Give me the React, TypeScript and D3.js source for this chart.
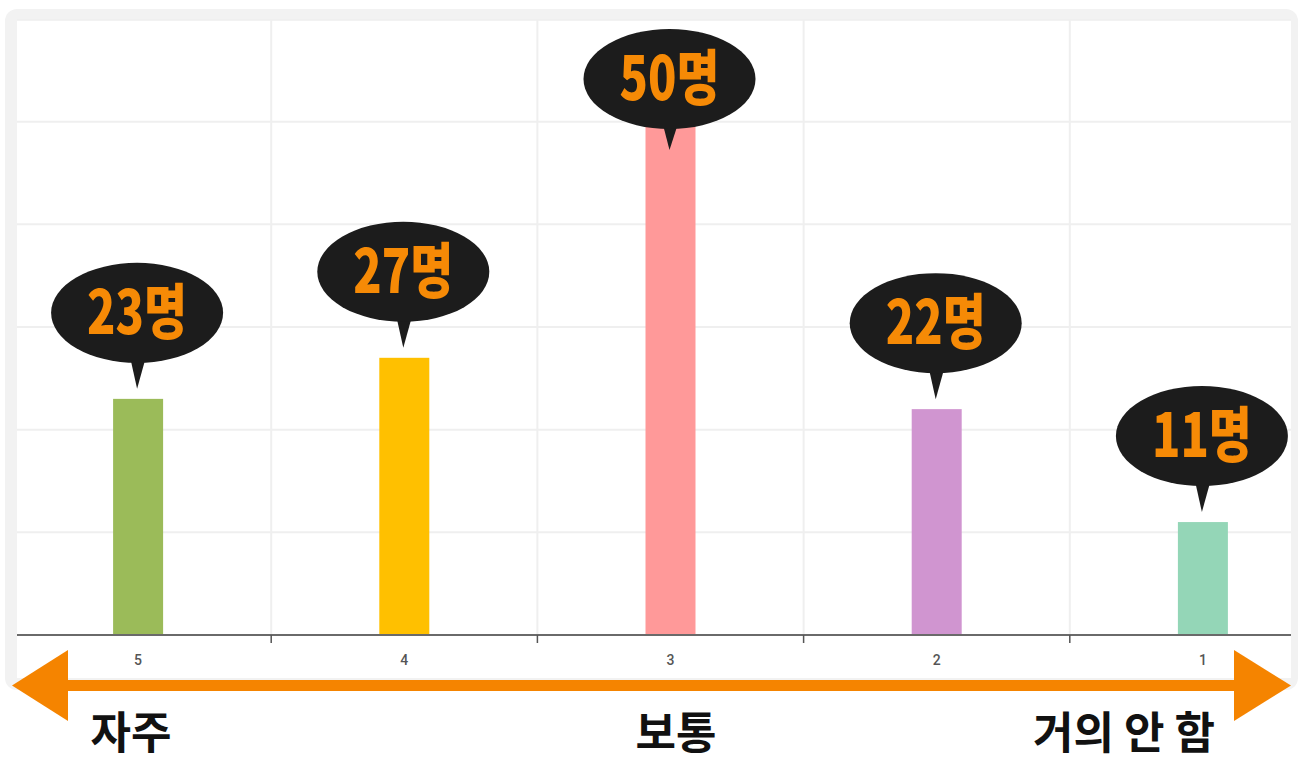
import React from "react";
import * as d3 from "d3";

const categories = ["5", "4", "3", "2", "1"];
const counts = [23, 27, 50, 22, 11];
const barColors = ["#9bbb59", "#ffc000", "#ff9999", "#d095d0", "#94d6b7"];
const valueLabels = ["23명", "27명", "50명", "22명", "11명"];
const yTicks = [0, 10, 20, 30, 40, 50, 60];
const scaleLabels = ["자주", "보통", "거의 안 함"];

const W = 1304;
const H = 762;

export default function App() {
  const x = d3.scaleBand<string>().domain(categories).range([5, 1336]).paddingInner(0).paddingOuter(0);
  const y = d3.scaleLinear().domain([0, 60]).range([635, 19]);
  const barW = 50;
  const bw = x.bandwidth();
  const boundaries = categories.slice(1).map((c) => x(c) as number);

  return (
    <svg width={W} height={H} style={{ position: "absolute", left: 0, top: 0 }}>
      <defs>
        <clipPath id="plotClip">
          <rect x={17} y={19} width={1274} height={660} />
        </clipPath>
      </defs>
      {/* card */}
      <rect x={5} y={9} width={1293} height={681} rx={12} fill="#f2f2f2" />
      <rect x={17} y={21} width={1274} height={657} fill="#ffffff" />
      <g clipPath="url(#plotClip)">
        {yTicks.filter((t) => t > 0).map((t) => (
          <line key={t} x1={17} x2={1291} y1={y(t)} y2={y(t)} stroke="#efefef" strokeWidth={2} />
        ))}
        {boundaries.map((b, i) => (
          <line key={i} x1={b} x2={b} y1={19} y2={y(0)} stroke="#efefef" strokeWidth={2} />
        ))}
        {categories.map((c, i) => {
          const cx = (x(c) as number) + bw / 2;
          return (
            <rect key={c} x={cx - barW / 2} y={y(counts[i])} width={barW} height={y(0) - y(counts[i])} fill={barColors[i]} />
          );
        })}
        <line x1={17} x2={1291} y1={y(0)} y2={y(0)} stroke="#6a6a6a" strokeWidth={2} />
        {boundaries.map((b, i) => (
          <line key={i} x1={b} x2={b} y1={y(0)} y2={y(0) + 8} stroke="#555" strokeWidth={1.5} />
        ))}
        {categories.map((c) => (
          <text key={c} x={(x(c) as number) + bw / 2} y={665} textAnchor="middle" fontFamily="Roboto, Arial, sans-serif" fontSize={14} fontWeight={500} fill="#555">
            {c}
          </text>
        ))}
      </g>
      {/* bubbles */}
      {categories.map((c, i) => {
        const cx = (x(c) as number) + bw / 2;
        const ey = Math.max(y(counts[i]) - 10 - 76, 79);
        const tipY = Math.max(y(counts[i]) - 10, ey + 71);
        return (
          <g key={c}>
            <path d={`M${cx - 9},${ey + 40} L${cx - 1},${tipY} L${cx + 9},${ey + 40} Z`} fill="#1c1c1c" />
            <ellipse cx={cx - 1} cy={ey} rx={86} ry={50} fill="#1c1c1c" />
            <text
              x={cx - 1}
              y={ey + 21}
              textAnchor="middle"
              fontFamily="'Noto Sans CJK KR', sans-serif"
              fontWeight={900}
              fontSize={60}
              fill="#f68a06"
              textLength={100}
              lengthAdjust="spacingAndGlyphs"
            >
              {valueLabels[i]}
            </text>
          </g>
        );
      })}
      {/* arrow */}
      <rect x={66} y={680} width={1170} height={11} fill="#f58400" />
      <path d="M12,685.5 L68,650 L68,721 Z" fill="#f58400" />
      <path d="M1291,685.5 L1234,650 L1234,721 Z" fill="#f58400" />
      {/* scale labels */}
      <text x={131} y={749} textAnchor="middle" fontFamily="'Noto Sans CJK KR', sans-serif" fontWeight={700} fontSize={44} fill="#111">
        {scaleLabels[0]}
      </text>
      <text x={676} y={749} textAnchor="middle" fontFamily="'Noto Sans CJK KR', sans-serif" fontWeight={700} fontSize={44} fill="#111">
        {scaleLabels[1]}
      </text>
      <text x={1124} y={749} textAnchor="middle" fontFamily="'Noto Sans CJK KR', sans-serif" fontWeight={700} fontSize={44} fill="#111">
        {scaleLabels[2]}
      </text>
    </svg>
  );
}
